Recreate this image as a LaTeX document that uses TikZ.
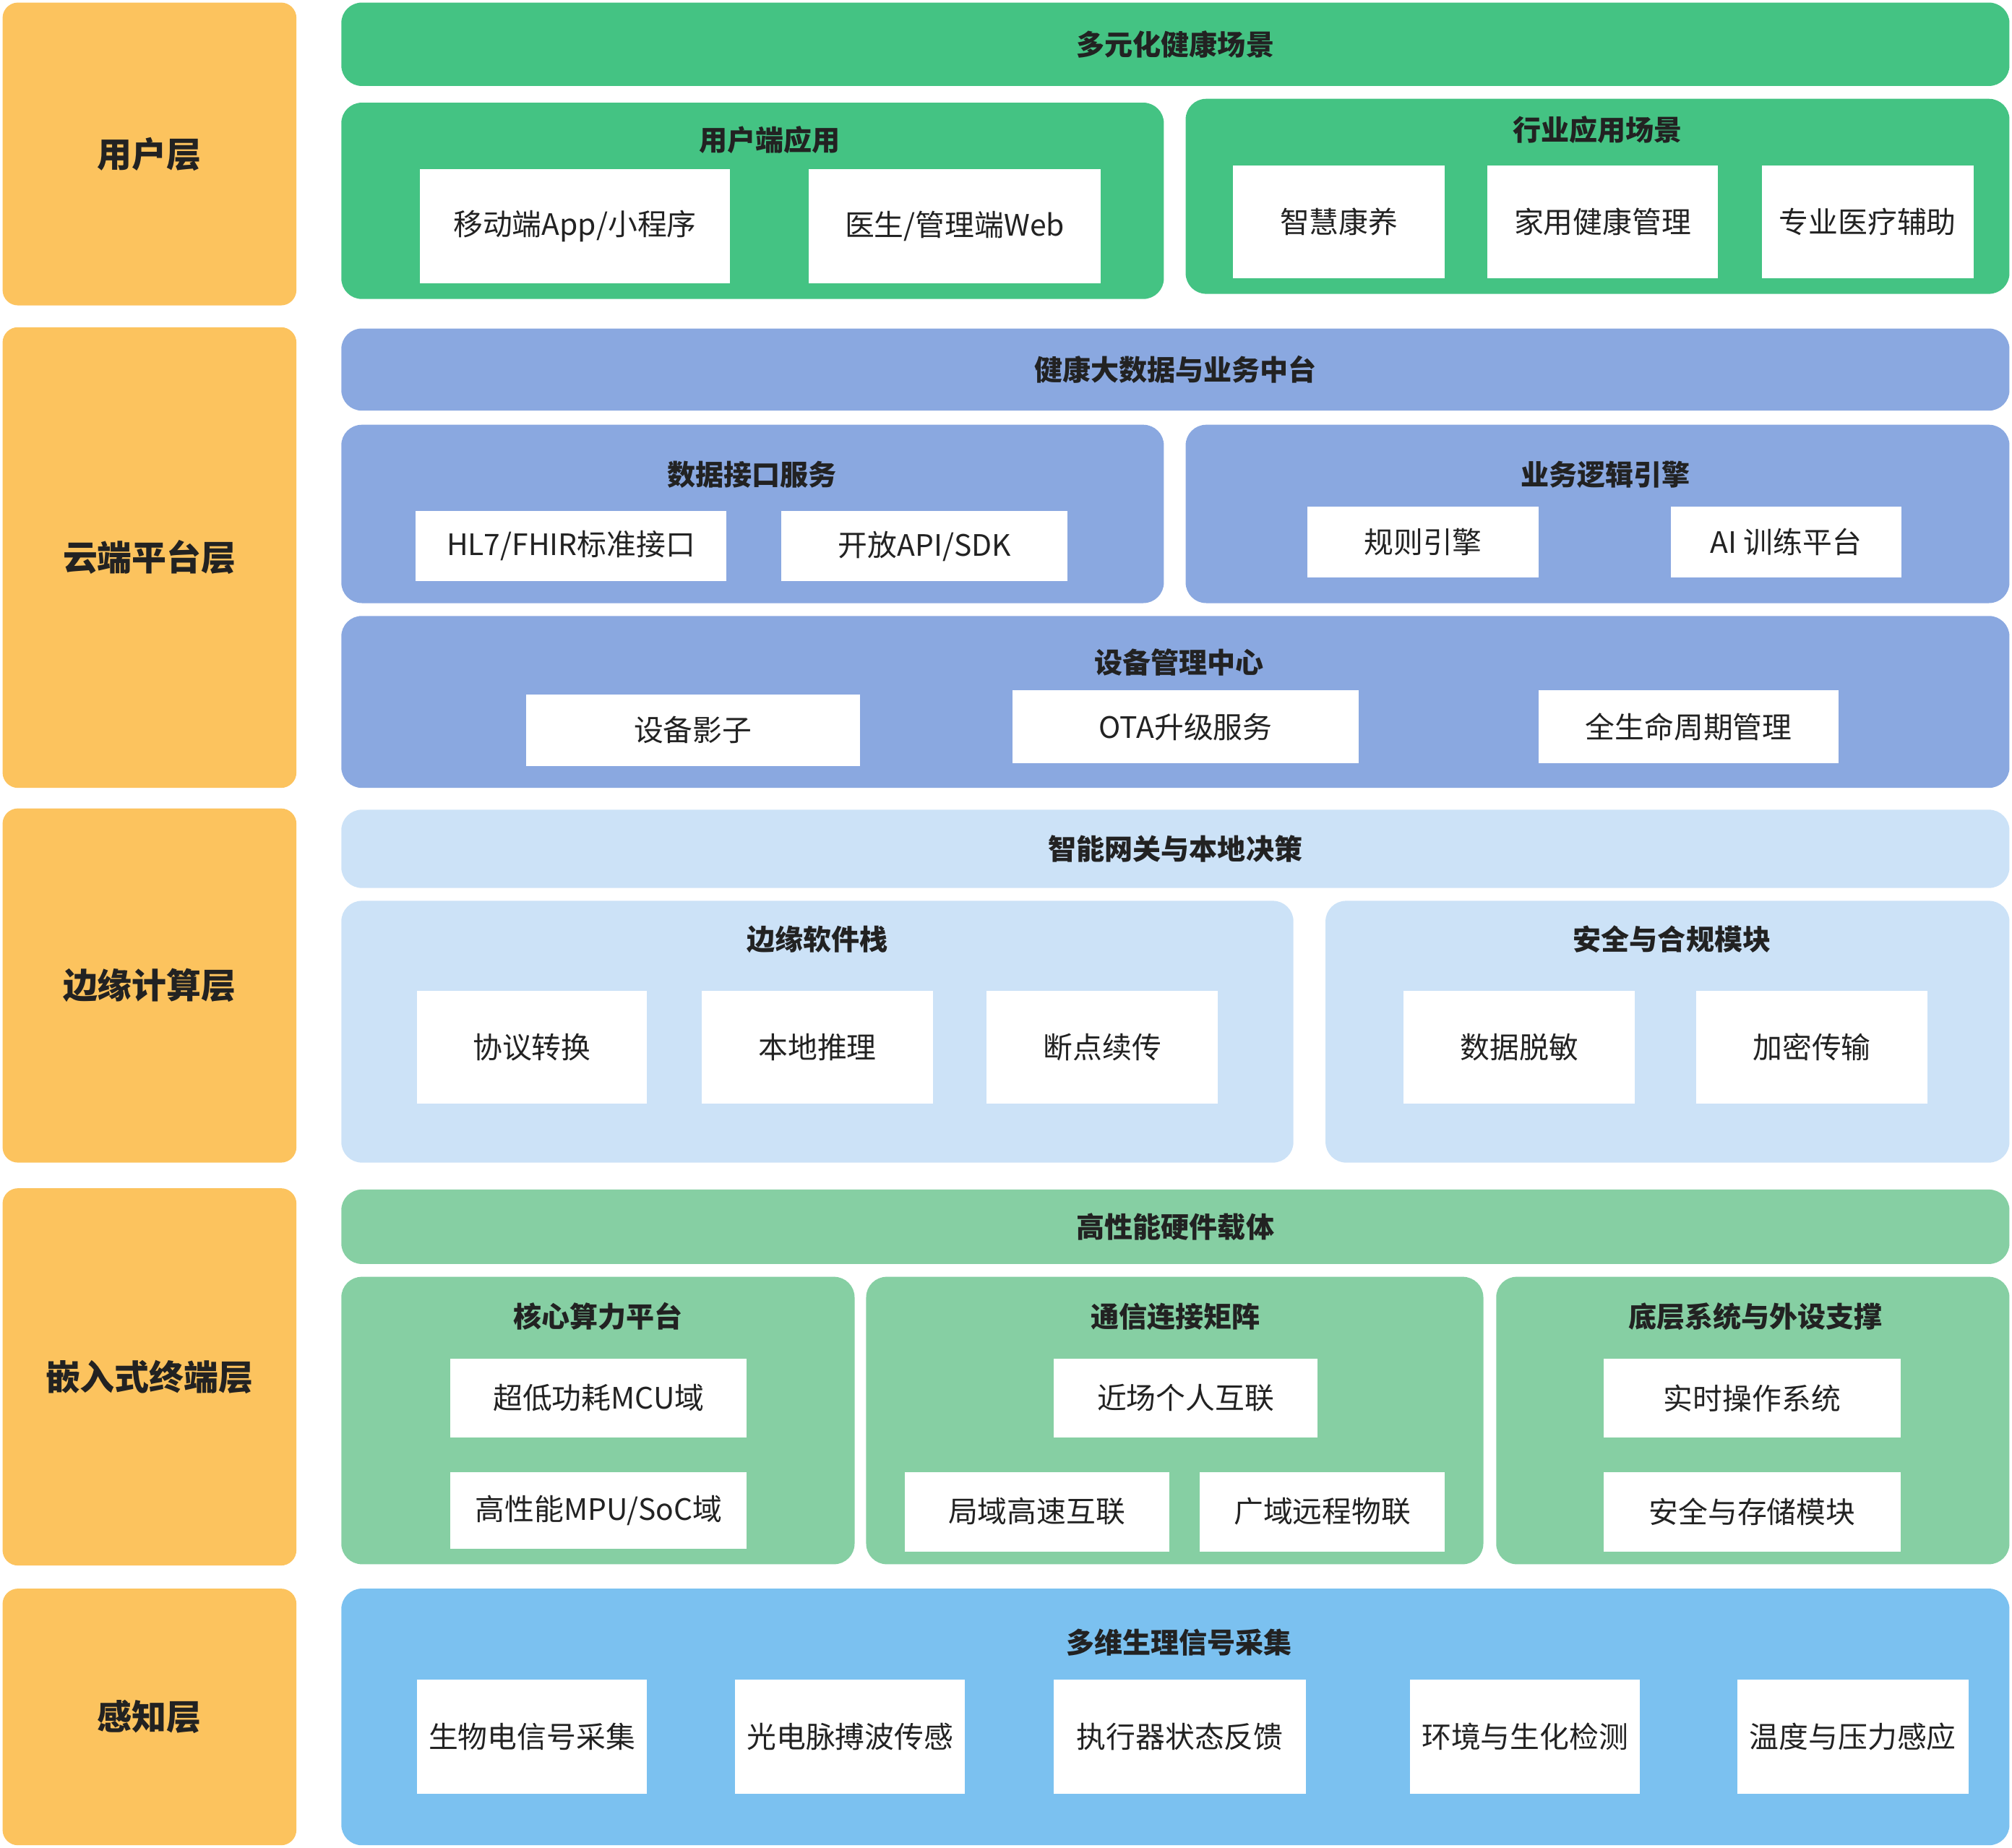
\documentclass[tikz,border=0pt]{standalone}
\usepackage{fontspec}
\setmainfont{Noto Sans CJK SC}
\usetikzlibrary{positioning}
\definecolor{layerY}{HTML}{FCC35E}
\definecolor{userG}{HTML}{44C383}
\definecolor{cloudB}{HTML}{8AA8E0}
\definecolor{edgeB}{HTML}{CCE2F7}
\definecolor{embG}{HTML}{86CFA3}
\definecolor{senseB}{HTML}{7BC1F0}
\definecolor{txt}{HTML}{222222}
\tikzset
{
    layer/.style = {fill=layerY, rounded corners=12pt, inner sep=0pt, text=txt, font=\fontsize{27}{30}\selectfont\bfseries},
    panel/.style = {rounded corners=16pt, inner sep=0pt, text=txt, font=\fontsize{22}{26}\selectfont\bfseries},
    item/.style  = {fill=white, inner sep=0pt, text=txt, font=\fontsize{23}{26}\selectfont},
    title/.style = {text=txt, font=\fontsize{22}{26}\selectfont\bfseries}
}
% #1 name, #2 x1, #3 y1, #4 x2, #5 y2, #6 style, #7 text
\newcommand\blk[7]{\node (#1) [#6, minimum width={(#4-#2)*1pt}, minimum height={(#5-#3)*1pt}] at ({(#2+#4)/2},{(#3+#5)/2}) {#7};}

\begin{document}
\begin{tikzpicture}[x=1pt, y=-1pt]
\useasboundingbox (0,0) rectangle (1568,1440);
% layers
\blk{lUser}{2}{2}{231}{238}{layer}{用户层}
\blk{lCloud}{2}{255}{231}{614}{layer}{云端平台层}
\blk{lEdge}{2}{630}{231}{906}{layer}{边缘计算层}
\blk{lEmb}{2}{926}{231}{1220}{layer}{嵌入式终端层}
\blk{lSense}{2}{1238}{231}{1438}{layer}{感知层}
% user layer
\blk{uBar}{266}{2}{1566}{67}{panel, fill=userG}{多元化健康场景}
\blk{uApp}{266}{80}{907}{233}{panel, fill=userG}{}
\node (uAppT) [title] at (600,109) {用户端应用};
\blk{uApp1}{327}{132}{569}{221}{item}{移动端App/小程序}
\blk{uApp2}{630}{132}{858}{221}{item}{医生/管理端Web}
\blk{uInd}{924}{77}{1566}{229}{panel, fill=userG}{}
\node (uIndT) [title] at (1245,101) {行业应用场景};
\blk{uInd1}{961}{129}{1126}{217}{item}{智慧康养}
\blk{uInd2}{1159}{129}{1339}{217}{item}{家用健康管理}
\blk{uInd3}{1373}{129}{1538}{217}{item}{专业医疗辅助}
% cloud layer
\blk{cBar}{266}{256}{1566}{320}{panel, fill=cloudB}{健康大数据与业务中台}
\blk{cData}{266}{331}{907}{470}{panel, fill=cloudB}{}
\node (cDataT) [title] at (586,370) {数据接口服务};
\blk{cData1}{324}{398}{566}{453}{item}{HL7/FHIR标准接口}
\blk{cData2}{609}{398}{832}{453}{item}{开放API/SDK}
\blk{cLogic}{924}{331}{1566}{470}{panel, fill=cloudB}{}
\node (cLogicT) [title] at (1251,370) {业务逻辑引擎};
\blk{cLogic1}{1019}{395}{1199}{450}{item}{规则引擎}
\blk{cLogic2}{1302}{395}{1482}{450}{item}{AI 训练平台}
\blk{cDev}{266}{480}{1566}{614}{panel, fill=cloudB}{}
\node (cDevT) [title] at (919,516) {设备管理中心};
\blk{cDev1}{410}{541}{670}{597}{item}{设备影子}
\blk{cDev2}{789}{538}{1059}{595}{item}{OTA升级服务}
\blk{cDev3}{1199}{538}{1433}{595}{item}{全生命周期管理}
% edge layer
\blk{eBar}{266}{631}{1566}{692}{panel, fill=edgeB}{智能网关与本地决策}
\blk{eSw}{266}{702}{1008}{906}{panel, fill=edgeB}{}
\node (eSwT) [title] at (637,732) {边缘软件栈};
\blk{eSw1}{325}{772}{504}{860}{item}{协议转换}
\blk{eSw2}{547}{772}{727}{860}{item}{本地推理}
\blk{eSw3}{769}{772}{949}{860}{item}{断点续传}
\blk{eSec}{1033}{702}{1566}{906}{panel, fill=edgeB}{}
\node (eSecT) [title] at (1303,732) {安全与合规模块};
\blk{eSec1}{1094}{772}{1274}{860}{item}{数据脱敏}
\blk{eSec2}{1322}{772}{1502}{860}{item}{加密传输}
% embedded layer
\blk{mBar}{266}{927}{1566}{985}{panel, fill=embG}{高性能硬件载体}
\blk{mCore}{266}{995}{666}{1219}{panel, fill=embG}{}
\node (mCoreT) [title] at (466,1026) {核心算力平台};
\blk{mCore1}{351}{1059}{582}{1120}{item}{超低功耗MCU域}
\blk{mCore2}{351}{1147}{582}{1207}{item}{高性能MPU/SoC域}
\blk{mCom}{675}{995}{1156}{1219}{panel, fill=embG}{}
\node (mComT) [title] at (916,1026) {通信连接矩阵};
\blk{mCom1}{821}{1059}{1027}{1120}{item}{近场个人互联}
\blk{mCom2}{705}{1147}{911}{1209}{item}{局域高速互联}
\blk{mCom3}{935}{1147}{1126}{1209}{item}{广域远程物联}
\blk{mSys}{1166}{995}{1566}{1219}{panel, fill=embG}{}
\node (mSysT) [title] at (1368,1026) {底层系统与外设支撑};
\blk{mSys1}{1250}{1059}{1481}{1120}{item}{实时操作系统}
\blk{mSys2}{1250}{1147}{1481}{1209}{item}{安全与存储模块}
% sensing layer
\blk{sBox}{266}{1238}{1566}{1438}{panel, fill=senseB}{}
\node (sBoxT) [title] at (919,1280) {多维生理信号采集};
\blk{s1}{325}{1309}{504}{1398}{item}{生物电信号采集}
\blk{s2}{573}{1309}{752}{1398}{item}{光电脉搏波传感}
\blk{s3}{821}{1309}{1018}{1398}{item}{执行器状态反馈}
\blk{s4}{1099}{1309}{1278}{1398}{item}{环境与生化检测}
\blk{s5}{1354}{1309}{1534}{1398}{item}{温度与压力感应}
\end{tikzpicture}
\end{document}
